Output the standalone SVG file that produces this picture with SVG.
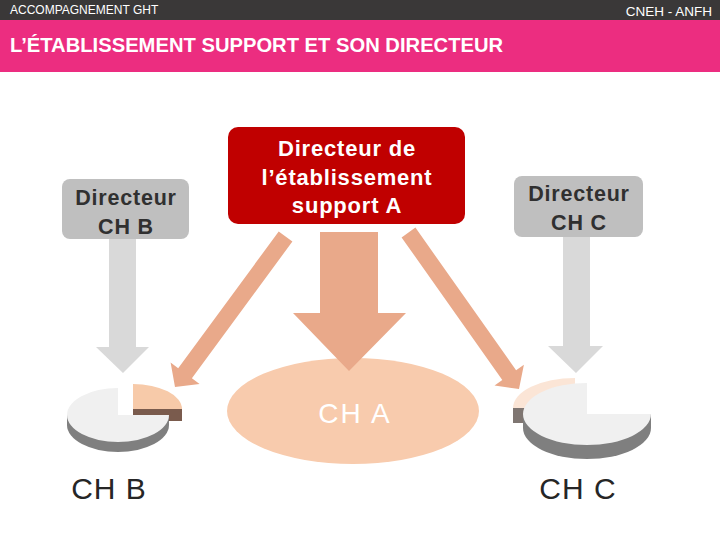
<svg xmlns="http://www.w3.org/2000/svg" width="720" height="540" viewBox="0 0 720 540">
  <style>
    .hdr { font-family: "Liberation Sans", Arial, sans-serif; fill: #ffffff; }
    .box-gray { fill: #bfbfbf; }
    .txt-gray { font-family: "Liberation Sans", Arial, sans-serif; font-size: 21.5px; font-weight: bold; fill: #303030; text-anchor: middle; letter-spacing: 0.8px; }
    .txt-red { font-family: "Liberation Sans", Arial, sans-serif; font-size: 22px; font-weight: bold; fill: #ffffff; text-anchor: middle; letter-spacing: 0.8px; }
    .lbl { font-family: "Liberation Sans", Arial, sans-serif; font-size: 30px; fill: #262626; text-anchor: middle; letter-spacing: 1px; }
    .arrow-gray { fill: #d9d9d9; }
    .arrow-salmon { fill: #e9a98a; }
    .pie-top { fill: #f0f0f0; }
    .pie-side { fill: #7f7f7f; }
  </style>
  <rect x="0" y="0" width="720" height="540" fill="#ffffff"/>
  <g id="header">
    <rect x="0" y="0" width="720" height="20" fill="#3a3838"/>
    <text class="hdr" x="10" y="14" font-size="12">ACCOMPAGNEMENT GHT</text>
    <text class="hdr" x="712" y="16" font-size="13.5" text-anchor="end">CNEH - ANFH</text>
    <rect x="0" y="20" width="720" height="52" fill="#ec2d80"/>
    <text class="hdr" x="10" y="52" font-size="20.2" font-weight="bold">L’ÉTABLISSEMENT SUPPORT ET SON DIRECTEUR</text>
  </g>

  <g id="connectors">
    <path class="arrow-gray" d="M109,239 L136,239 L136,347 L149,347 L123,373 L96,347 L109,347 Z"/>
    <path class="arrow-gray" d="M563,236 L590,236 L590,346 L603,346 L576,373 L548,346 L563,346 Z"/>
    <polygon class="arrow-salmon" points="292.4,241.5 191.9,378.3 199.6,384.0 175,387 170.6,362.6 178.2,368.3 278.7,231.5"/>
    <polygon class="arrow-salmon" points="415.4,227.6 516.1,370.2 523.9,364.7 519,389 494.5,385.5 502.3,380.0 401.6,237.4"/>
  </g>

  <g id="ch-a">
    <ellipse cx="353" cy="411" rx="126" ry="53" fill="#f8cbad"/>
    <path class="arrow-salmon" d="M320,232 L378,232 L378,313 L406,313 L349,371 L293,313 L320,313 Z"/>
    <text x="355" y="423" font-family="Liberation Sans, Arial, sans-serif" font-size="28" fill="#ffffff" text-anchor="middle" letter-spacing="2">CH A</text>
  </g>

  <g id="dir-a">
    <rect x="228" y="127" width="237" height="97" rx="10" fill="#c00000"/>
    <text class="txt-red" x="347" y="156">Directeur de</text>
    <text class="txt-red" x="347" y="185">l’établissement</text>
    <text class="txt-red" x="347" y="213">support A</text>
  </g>

  <g id="dir-b">
    <rect class="box-gray" x="62" y="179" width="127" height="60" rx="8"/>
    <text class="txt-gray" x="126" y="205">Directeur</text>
    <text class="txt-gray" x="126" y="234">CH B</text>
  </g>

  <g id="dir-c">
    <rect class="box-gray" x="514" y="176" width="129" height="61" rx="8"/>
    <text class="txt-gray" x="579" y="201">Directeur</text>
    <text class="txt-gray" x="579" y="230">CH C</text>
  </g>

  <g id="pie-b">
    <rect x="133" y="409" width="49" height="12" fill="#7a5b4d"/>
    <path d="M133,409 L182,409 A49,25 0 0,0 133,384 Z" fill="#f7caa9"/>
    <path class="pie-side" d="M67,415 L67,425 A51,27 0 0,0 169,425 L169,415 Z"/>
    <path class="pie-top" d="M118,415 L118,388 A51,27 0 1,0 169,415 Z"/>
  </g>

  <g id="pie-c">
    <rect x="513" y="408" width="62" height="15" fill="#7f7672"/>
    <path d="M575,408 L513,408 A62,30 0 0,1 575,378 Z" fill="#fbe5d6"/>
    <path class="pie-side" d="M523,414 L523,428 A64,31 0 0,0 651,428 L651,414 Z"/>
    <path class="pie-top" d="M587,414 L651,414 A64,31 0 1,1 587,383 Z"/>
  </g>

  <g id="labels">
    <text class="lbl" x="109" y="499">CH B</text>
    <text class="lbl" x="578" y="499">CH C</text>
  </g>
</svg>
